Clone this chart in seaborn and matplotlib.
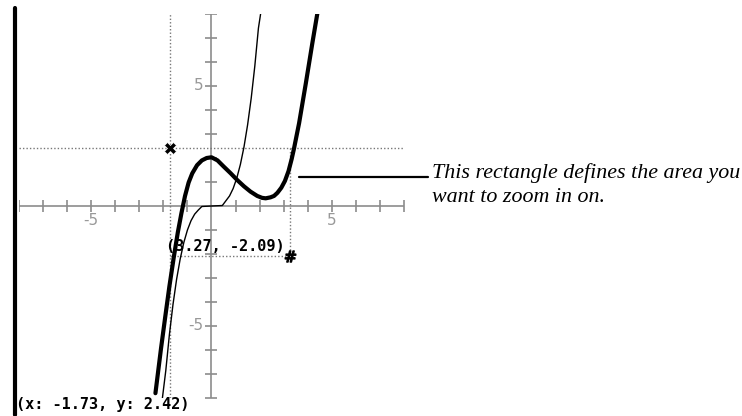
import matplotlib
matplotlib.use("Agg")
import matplotlib.pyplot as plt
from matplotlib.lines import Line2D
import seaborn as sns

sns.set_style("white")
plt.rcParams['font.family'] = ['DejaVu Sans']

# thin curve
thin_x = [-2.04, -1.9, -1.75, -1.6, -1.45, -1.3, -1.15, -1.0, -0.85, -0.7, -0.55, -0.4,
          0.0, 0.45, 0.6, 0.75, 0.9, 1.05, 1.2, 1.35, 1.5, 1.65, 1.8, 1.95, 2.04]
thin_y = [-8.0, -6.86, -5.36, -4.1, -3.05, -2.2, -1.52, -1.0, -0.61, -0.34, -0.17, -0.02,
          0.0, 0.02, 0.22, 0.42, 0.73, 1.16, 1.73, 2.46, 3.38, 4.49, 5.83, 7.41, 8.0]

# thick curve
thick_x = [-2.33, -2.1, -1.92, -1.75, -1.57, -1.4, -1.25, -1.1, -0.95, -0.8, -0.6, -0.4,
           -0.2, 0.0, 0.25, 0.51, 0.8, 1.07, 1.35, 1.62, 1.9, 2.1, 2.25, 2.45, 2.6, 2.74,
           2.9, 3.05, 3.2, 3.33, 3.43, 3.64, 3.92, 4.19, 4.4]
thick_y = [-7.8, -5.95, -4.6, -3.35, -2.15, -1.1, -0.3, 0.42, 0.98, 1.36, 1.7, 1.9,
           2.0, 2.03, 1.9, 1.64, 1.36, 1.08, 0.82, 0.6, 0.42, 0.34, 0.32, 0.36, 0.42, 0.55,
           0.76, 1.04, 1.45, 1.95, 2.4, 3.45, 5.11, 6.78, 8.03]

ticks = [-8, -7, -6, -5, -4, -3, -2, -1, 1, 2, 3, 4, 5, 6, 7, 8]
tick_labels = {-5: "-5", 5: "5"}

# zoom rectangle corners
corner1 = (-1.73, 2.42)
corner2 = (3.27, -2.09)

W, H = 742, 416
fig = plt.figure(figsize=(W / 100, H / 100), dpi=100)
fig.patch.set_facecolor("white")

# axes: x -8..8 -> px 19..404, y 8..-8 -> px 14..398
ax = fig.add_axes([19 / W, (H - 398) / H, 385 / W, 384 / H])
ax.set_xlim(-8, 8)
ax.set_ylim(-8, 8)
ax.axis("off")

grey = "#8c8c8c"
ax.axhline(0, color=grey, lw=1.2, zorder=1)
ax.axvline(0, color=grey, lw=1.2, zorder=1)
ax.plot(ticks, [0] * len(ticks), ls="none", marker="|", ms=8, mew=1.2, color=grey, zorder=1)
ax.plot([0] * len(ticks), ticks, ls="none", marker="_", ms=8, mew=1.2, color=grey, zorder=1)
for t, lab in tick_labels.items():
    ax.text(t, -0.3, lab, color="#999999", fontsize=11, ha="center", va="top")
    ax.text(-0.35, t, lab, color="#999999", fontsize=11, ha="right", va="center")

# selection lines (dotted)
dot = dict(color="#777777", lw=1.0, ls=(0, (1, 1.5)), zorder=2)
ax.axvline(corner1[0], **dot)
ax.axhline(corner1[1], **dot)
ax.plot([corner2[0], corner2[0]], [corner1[1], corner2[1]], **dot)
ax.plot([corner1[0], corner2[0]], [corner2[1], corner2[1]], **dot)

sns.lineplot(x=thin_x, y=thin_y, sort=False, estimator=None, color="black", lw=1.0, ax=ax, zorder=3)
sns.lineplot(x=thick_x, y=thick_y, sort=False, estimator=None, color="black", lw=3.0, ax=ax, zorder=4)

ax.plot(*corner1, marker="X", ms=8, color="black", mec="white", mew=0.5, zorder=5)
ax.plot(*corner2, marker=r"$\#$", ms=8, color="black", zorder=5)

mono = dict(family="DejaVu Sans Mono", fontsize=11, fontweight="bold", color="black")
ax.text(corner2[0] - 0.25, corner2[1] + 0.1, "({:.2f}, {:.2f})".format(*corner2),
        ha="right", va="bottom", zorder=6, **mono)

# window border on the left
fig.add_artist(Line2D([14.5 / W, 14.5 / W], [1 - 8 / H, 1 - 415 / H], color="black", lw=3))

fig.text(16 / W, 1 - 405 / H, "(x: -1.73, y: 2.42)", ha="left", va="center", **mono)

# callout
fig.add_artist(Line2D([299 / W, 428 / W], [1 - 177 / H, 1 - 177 / H], color="black", lw=1.6))
fig.text(432 / W, 1 - 185 / H, "This rectangle defines the area you\nwant to zoom in on.",
         family="Liberation Serif", style="italic", fontsize=15.8, ha="left", va="center",
         linespacing=1.35, color="black")

fig.savefig("out.png", dpi=100)
